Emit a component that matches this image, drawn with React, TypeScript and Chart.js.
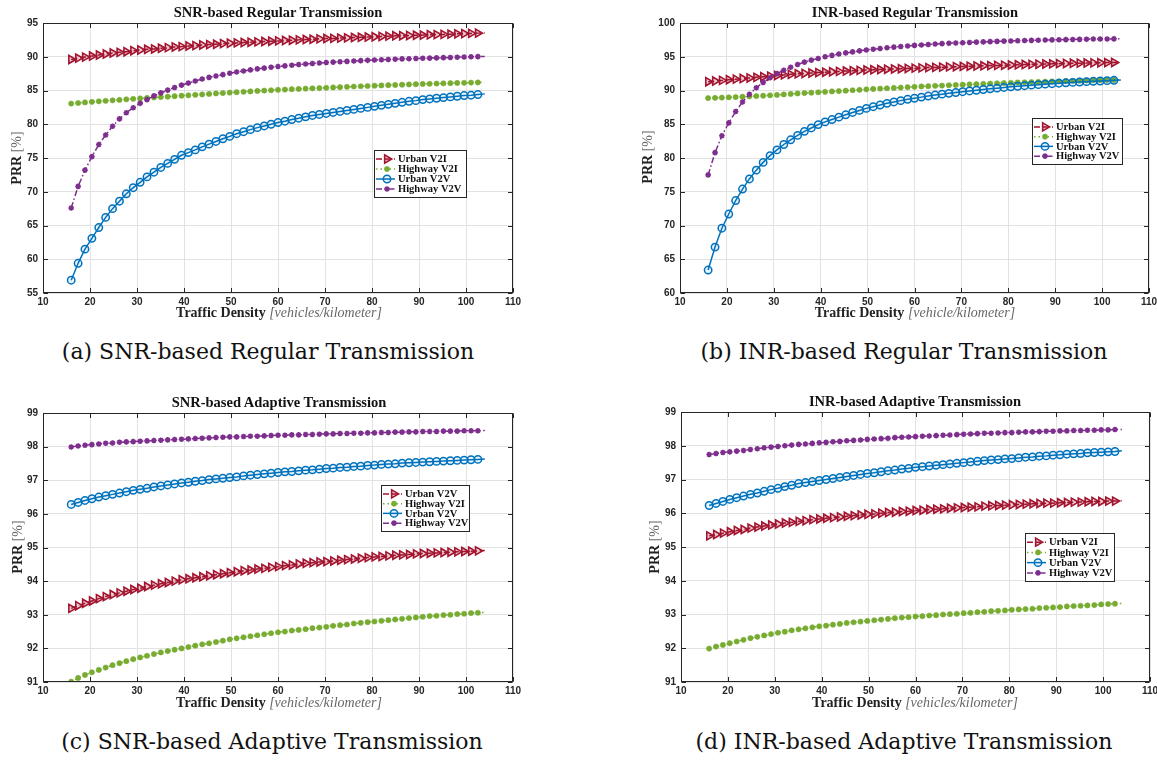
import React, { useEffect, useRef } from "react";
import { Chart, registerables } from "chart.js";
import { drawPoint } from "chart.js/helpers";

Chart.register(...registerables);

// ---------------- data ----------------
const density = [16, 17.47, 18.93, 20.4, 21.87, 23.33, 24.8, 26.27, 27.73, 29.2, 30.67, 32.13, 33.6, 35.07, 36.53, 38, 39.47, 40.93, 42.4, 43.87, 45.33, 46.8, 48.27, 49.73, 51.2, 52.67, 54.13, 55.6, 57.07, 58.53, 60, 61.47, 62.93, 64.4, 65.87, 67.33, 68.8, 70.27, 71.73, 73.2, 74.67, 76.13, 77.6, 79.07, 80.53, 82, 83.47, 84.93, 86.4, 87.87, 89.33, 90.8, 92.27, 93.73, 95.2, 96.67, 98.13, 99.6, 101.07, 102.53, 104];

// (a) SNR-based Regular Transmission
const snrRegUrbanV2I = [89.6, 89.8, 89.95, 90.1, 90.25, 90.4, 90.55, 90.65, 90.75, 90.9, 91.0, 91.1, 91.15, 91.25, 91.35, 91.45, 91.5, 91.6, 91.65, 91.75, 91.8, 91.85, 91.95, 92.0, 92.05, 92.1, 92.15, 92.2, 92.25, 92.3, 92.35, 92.4, 92.45, 92.5, 92.55, 92.6, 92.65, 92.7, 92.72, 92.76, 92.8, 92.84, 92.88, 92.92, 92.96, 93.0, 93.05, 93.1, 93.12, 93.15, 93.18, 93.21, 93.25, 93.28, 93.31, 93.35, 93.39, 93.43, 93.46, 93.5, 93.52];
const snrRegHighwayV2I = [83.07, 83.15, 83.24, 83.32, 83.4, 83.47, 83.54, 83.61, 83.69, 83.76, 83.83, 83.9, 83.96, 84.03, 84.09, 84.16, 84.23, 84.29, 84.36, 84.42, 84.49, 84.56, 84.62, 84.69, 84.75, 84.81, 84.87, 84.93, 84.99, 85.04, 85.1, 85.14, 85.19, 85.23, 85.28, 85.32, 85.36, 85.41, 85.45, 85.5, 85.54, 85.59, 85.63, 85.67, 85.71, 85.75, 85.79, 85.82, 85.86, 85.9, 85.93, 85.97, 86.0, 86.03, 86.06, 86.09, 86.12, 86.14, 86.17, 86.19, 86.22];
const snrRegUrbanV2V = [56.9, 59.4, 61.5, 63.1, 64.7, 66.2, 67.5, 68.6, 69.7, 70.6, 71.4, 72.2, 72.9, 73.6, 74.2, 74.8, 75.4, 75.8, 76.2, 76.65, 77.05, 77.45, 77.85, 78.2, 78.6, 78.9, 79.2, 79.5, 79.75, 80.0, 80.25, 80.45, 80.7, 80.9, 81.1, 81.3, 81.45, 81.6, 81.75, 81.9, 82.05, 82.2, 82.35, 82.5, 82.65, 82.8, 82.95, 83.1, 83.25, 83.4, 83.5, 83.65, 83.75, 83.85, 83.95, 84.05, 84.15, 84.25, 84.3, 84.4, 84.5];
const snrRegHighwayV2V = [67.6, 70.8, 73.2, 75.2, 77.0, 78.4, 79.7, 80.8, 81.7, 82.45, 83.1, 83.65, 84.2, 84.65, 85.05, 85.45, 85.8, 86.1, 86.4, 86.7, 86.95, 87.15, 87.35, 87.55, 87.75, 87.9, 88.05, 88.2, 88.32, 88.44, 88.55, 88.65, 88.75, 88.85, 88.93, 89.0, 89.07, 89.15, 89.2, 89.26, 89.32, 89.37, 89.42, 89.47, 89.51, 89.55, 89.6, 89.64, 89.68, 89.71, 89.74, 89.77, 89.8, 89.84, 89.87, 89.9, 89.93, 89.96, 89.99, 90.02, 90.05];

// (b) INR-based Regular Transmission
const inrRegUrbanV2I = [91.3, 91.4, 91.5, 91.6, 91.68, 91.77, 91.86, 91.95, 92.04, 92.13, 92.22, 92.31, 92.39, 92.47, 92.53, 92.59, 92.65, 92.71, 92.77, 92.83, 92.88, 92.93, 92.98, 93.03, 93.07, 93.11, 93.15, 93.19, 93.23, 93.27, 93.31, 93.35, 93.39, 93.42, 93.46, 93.5, 93.53, 93.57, 93.6, 93.63, 93.66, 93.69, 93.72, 93.75, 93.78, 93.81, 93.84, 93.87, 93.9, 93.92, 93.95, 93.98, 94.0, 94.03, 94.05, 94.07, 94.09, 94.11, 94.13, 94.15, 94.17];
const inrRegHighwayV2I = [88.88, 88.91, 88.95, 88.99, 89.03, 89.08, 89.13, 89.18, 89.23, 89.29, 89.35, 89.42, 89.49, 89.56, 89.62, 89.68, 89.74, 89.8, 89.86, 89.92, 89.98, 90.04, 90.1, 90.17, 90.23, 90.28, 90.33, 90.38, 90.43, 90.49, 90.55, 90.6, 90.64, 90.69, 90.73, 90.78, 90.82, 90.87, 90.91, 90.95, 90.99, 91.03, 91.07, 91.11, 91.15, 91.19, 91.22, 91.25, 91.28, 91.31, 91.34, 91.37, 91.4, 91.43, 91.46, 91.48, 91.51, 91.53, 91.55, 91.57, 91.59];
const inrRegUrbanV2V = [63.4, 66.8, 69.6, 71.7, 73.7, 75.4, 76.9, 78.2, 79.35, 80.35, 81.2, 82.0, 82.7, 83.35, 83.95, 84.45, 84.95, 85.35, 85.7, 86.05, 86.4, 86.75, 87.05, 87.35, 87.6, 87.85, 88.1, 88.3, 88.5, 88.7, 88.85, 89.02, 89.18, 89.33, 89.46, 89.58, 89.7, 89.82, 89.93, 90.04, 90.15, 90.25, 90.35, 90.45, 90.54, 90.63, 90.71, 90.79, 90.87, 90.94, 91.01, 91.08, 91.14, 91.2, 91.26, 91.31, 91.36, 91.41, 91.46, 91.51, 91.55];
const inrRegHighwayV2V = [77.5, 80.8, 83.3, 85.2, 86.9, 88.3, 89.45, 90.4, 91.2, 91.9, 92.5, 93.0, 93.45, 93.85, 94.2, 94.5, 94.75, 95.0, 95.2, 95.4, 95.57, 95.72, 95.87, 96.0, 96.12, 96.23, 96.34, 96.43, 96.52, 96.6, 96.68, 96.75, 96.82, 96.88, 96.94, 96.99, 97.04, 97.08, 97.12, 97.16, 97.2, 97.24, 97.28, 97.31, 97.34, 97.37, 97.4, 97.43, 97.45, 97.48, 97.5, 97.52, 97.54, 97.56, 97.58, 97.6, 97.62, 97.63, 97.64, 97.65, 97.66];

// (c) SNR-based Adaptive Transmission
const snrAdpUrbanV2I = [93.19, 93.27, 93.34, 93.41, 93.48, 93.54, 93.6, 93.65, 93.7, 93.75, 93.79, 93.84, 93.88, 93.92, 93.96, 94.0, 94.04, 94.07, 94.1, 94.13, 94.16, 94.19, 94.22, 94.25, 94.28, 94.31, 94.33, 94.36, 94.38, 94.41, 94.43, 94.46, 94.48, 94.51, 94.53, 94.55, 94.57, 94.58, 94.6, 94.62, 94.64, 94.66, 94.68, 94.7, 94.72, 94.73, 94.75, 94.77, 94.78, 94.79, 94.81, 94.82, 94.83, 94.84, 94.85, 94.86, 94.87, 94.88, 94.89, 94.9, 94.91];
const snrAdpHighwayV2I = [91.01, 91.12, 91.21, 91.29, 91.36, 91.43, 91.5, 91.56, 91.62, 91.68, 91.73, 91.78, 91.83, 91.88, 91.92, 91.96, 92.0, 92.04, 92.08, 92.12, 92.15, 92.19, 92.23, 92.27, 92.3, 92.33, 92.36, 92.39, 92.42, 92.45, 92.48, 92.5, 92.53, 92.55, 92.57, 92.6, 92.62, 92.64, 92.67, 92.69, 92.71, 92.74, 92.76, 92.78, 92.8, 92.82, 92.84, 92.86, 92.88, 92.9, 92.92, 92.94, 92.96, 92.97, 92.99, 93.0, 93.02, 93.03, 93.05, 93.06, 93.07];
const snrAdpUrbanV2V = [96.28, 96.34, 96.4, 96.45, 96.5, 96.54, 96.58, 96.62, 96.66, 96.7, 96.73, 96.76, 96.8, 96.83, 96.86, 96.89, 96.92, 96.94, 96.97, 96.99, 97.02, 97.04, 97.06, 97.08, 97.1, 97.13, 97.15, 97.17, 97.19, 97.21, 97.23, 97.25, 97.26, 97.28, 97.3, 97.31, 97.33, 97.35, 97.36, 97.38, 97.39, 97.41, 97.42, 97.44, 97.45, 97.47, 97.48, 97.49, 97.51, 97.52, 97.53, 97.54, 97.55, 97.56, 97.57, 97.58, 97.59, 97.6, 97.61, 97.62, 97.63];
const snrAdpHighwayV2V = [97.99, 98.02, 98.04, 98.06, 98.08, 98.1, 98.11, 98.13, 98.14, 98.15, 98.16, 98.17, 98.18, 98.19, 98.2, 98.21, 98.22, 98.23, 98.24, 98.25, 98.26, 98.27, 98.28, 98.29, 98.29, 98.3, 98.31, 98.31, 98.32, 98.33, 98.34, 98.34, 98.35, 98.35, 98.36, 98.36, 98.37, 98.38, 98.38, 98.39, 98.39, 98.4, 98.4, 98.41, 98.41, 98.42, 98.42, 98.43, 98.43, 98.44, 98.44, 98.45, 98.45, 98.45, 98.46, 98.46, 98.46, 98.47, 98.47, 98.47, 98.48];

// (d) INR-based Adaptive Transmission
const inrAdpUrbanV2I = [95.33, 95.37, 95.41, 95.45, 95.49, 95.52, 95.56, 95.59, 95.62, 95.65, 95.68, 95.71, 95.73, 95.76, 95.78, 95.81, 95.83, 95.85, 95.87, 95.89, 95.91, 95.93, 95.95, 95.97, 95.98, 96.0, 96.02, 96.03, 96.05, 96.06, 96.08, 96.09, 96.11, 96.12, 96.13, 96.15, 96.16, 96.17, 96.18, 96.19, 96.21, 96.22, 96.23, 96.24, 96.25, 96.26, 96.27, 96.28, 96.29, 96.3, 96.3, 96.31, 96.32, 96.33, 96.33, 96.34, 96.35, 96.35, 96.36, 96.36, 96.37];
const inrAdpHighwayV2I = [91.99, 92.05, 92.1, 92.15, 92.2, 92.25, 92.3, 92.34, 92.38, 92.42, 92.46, 92.49, 92.53, 92.56, 92.59, 92.62, 92.65, 92.67, 92.7, 92.72, 92.75, 92.77, 92.79, 92.81, 92.83, 92.85, 92.87, 92.89, 92.91, 92.92, 92.94, 92.95, 92.97, 92.98, 93.0, 93.01, 93.02, 93.04, 93.05, 93.07, 93.08, 93.1, 93.11, 93.12, 93.14, 93.15, 93.16, 93.17, 93.19, 93.2, 93.21, 93.22, 93.24, 93.25, 93.26, 93.27, 93.28, 93.3, 93.31, 93.32, 93.33];
const inrAdpUrbanV2V = [96.23, 96.29, 96.35, 96.41, 96.46, 96.51, 96.56, 96.6, 96.65, 96.7, 96.74, 96.79, 96.83, 96.88, 96.91, 96.94, 96.97, 97.0, 97.03, 97.06, 97.09, 97.12, 97.15, 97.18, 97.2, 97.23, 97.26, 97.28, 97.31, 97.33, 97.36, 97.38, 97.4, 97.42, 97.44, 97.46, 97.48, 97.5, 97.52, 97.54, 97.56, 97.58, 97.59, 97.61, 97.62, 97.64, 97.66, 97.67, 97.69, 97.7, 97.72, 97.73, 97.75, 97.76, 97.77, 97.79, 97.8, 97.81, 97.82, 97.83, 97.85];
const inrAdpHighwayV2V = [97.74, 97.77, 97.8, 97.82, 97.84, 97.86, 97.89, 97.91, 97.94, 97.96, 97.98, 98.0, 98.02, 98.04, 98.05, 98.07, 98.09, 98.1, 98.12, 98.13, 98.15, 98.16, 98.17, 98.19, 98.2, 98.21, 98.22, 98.24, 98.25, 98.26, 98.27, 98.28, 98.29, 98.3, 98.31, 98.32, 98.33, 98.34, 98.35, 98.36, 98.37, 98.37, 98.38, 98.39, 98.39, 98.4, 98.41, 98.41, 98.42, 98.43, 98.43, 98.44, 98.44, 98.45, 98.45, 98.46, 98.46, 98.47, 98.47, 98.48, 98.48];

const legendRegular = ["Urban V2I", "Highway V2I", "Urban V2V", "Highway V2V"];
const legendSnrAdaptive = ["Urban V2V", "Highway V2I", "Urban V2V", "Highway V2V"];
const xTickStep = 10;

// ---------------- styles ----------------
const RED = "#A2142F";
const GREEN = "#77AC30";
const BLUE = "#0072BD";
const PURPLE = "#7E2F8E";

type SeriesStyle = {
  color: string;
  dash: number[];
  pointStyle: string;
  rotation: number;
  radius: number;
  fill: string;
  bw: number;
};

const STYLES: SeriesStyle[] = [
  { color: RED, dash: [6, 3], pointStyle: "triangle", rotation: 90, radius: 4.7, fill: "rgba(162,20,47,0.22)", bw: 1.6 },
  { color: GREEN, dash: [1.5, 3], pointStyle: "circle", radius: 2.6, rotation: 0, fill: GREEN, bw: 0.6 },
  { color: BLUE, dash: [], pointStyle: "circle", radius: 3.7, rotation: 0, fill: "rgba(0,114,189,0.08)", bw: 1.5 },
  { color: PURPLE, dash: [6, 2.5, 1.5, 2.5], pointStyle: "star", radius: 2.8, rotation: 0, fill: PURPLE, bw: 1.6 },
];

type Box = { x: number; y: number; w: number; h: number };
type PanelCfg = {
  cx: number; cy: number; cw: number; ch: number;
  plot: { l: number; t: number; r: number; b: number };
  yMin: number; yMax: number; yStep: number;
  series: number[][];
  legendLabels: string[];
  legend: Box;
};

function ChartPanel({ cfg }: { cfg: PanelCfg }) {
  const ref = useRef<HTMLCanvasElement | null>(null);
  useEffect(() => {
    const canvas = ref.current;
    if (!canvas) return;
    const { cx, cy, cw, ch, plot } = cfg;
    const lastIdx = density.length - 1;
    const datasets = cfg.series.map((vals, si) => {
      const st = STYLES[si];
      return {
        label: cfg.legendLabels[si],
        data: density.map((x, i) => ({ x, y: vals[i] })),
        borderColor: st.color,
        backgroundColor: st.fill,
        borderWidth: 1.5,
        borderDash: st.dash,
        pointStyle: st.pointStyle,
        pointRotation: st.rotation,
        pointRadius: density.map((_, i) => (i === lastIdx ? 0 : st.radius)),
        pointBorderWidth: st.bw,
        pointBorderColor: st.color,
        pointBackgroundColor: st.fill,
        tension: 0,
        fill: false,
        order: 3 - si,
      };
    });

    const framePlugin = {
      id: "matlabFrame",
      afterDraw(chart: any) {
        const { ctx, chartArea: a, scales } = chart;
        ctx.save();
        ctx.strokeStyle = "#262626";
        ctx.lineWidth = 1;
        ctx.setLineDash([]);
        const L = Math.round(a.left) + 0.5;
        const R = Math.round(a.right) - 0.5;
        const T = Math.round(a.top) + 0.5;
        const B = Math.round(a.bottom) - 0.5;
        ctx.strokeRect(L, T, R - L, B - T);
        ctx.beginPath();
        const tl = 4.5;
        scales.x.ticks.forEach((t: any) => {
          const px = Math.round(scales.x.getPixelForValue(t.value)) + 0.5;
          ctx.moveTo(px, B); ctx.lineTo(px, B - tl);
          ctx.moveTo(px, T); ctx.lineTo(px, T + tl);
        });
        scales.y.ticks.forEach((t: any) => {
          const py = Math.round(scales.y.getPixelForValue(t.value)) + 0.5;
          ctx.moveTo(L, py); ctx.lineTo(L + tl, py);
          ctx.moveTo(R, py); ctx.lineTo(R - tl, py);
        });
        ctx.stroke();

        // legend
        const lb = cfg.legend;
        const bx = lb.x - cx;
        const by = lb.y - cy;
        ctx.fillStyle = "#ffffff";
        ctx.fillRect(bx, by, lb.w, lb.h);
        ctx.strokeStyle = "#262626";
        ctx.lineWidth = 1;
        ctx.strokeRect(bx + 0.5, by + 0.5, lb.w - 1, lb.h - 1);
        const rowH = (lb.h - 8) / 4;
        cfg.legendLabels.forEach((lab, i) => {
          const st = STYLES[i];
          const yy = by + 4 + rowH * (i + 0.5);
          ctx.save();
          ctx.strokeStyle = st.color;
          ctx.lineWidth = 1.5;
          ctx.setLineDash(st.dash);
          ctx.beginPath();
          ctx.moveTo(bx + 2, yy);
          ctx.lineTo(bx + 21, yy);
          ctx.stroke();
          ctx.setLineDash([]);
          ctx.strokeStyle = st.color;
          ctx.fillStyle = st.fill;
          ctx.lineWidth = st.bw;
          drawPoint(ctx, { pointStyle: st.pointStyle as any, rotation: st.rotation, radius: st.radius, borderWidth: st.bw }, bx + 13, yy);
          ctx.restore();
          ctx.fillStyle = "#111";
          ctx.font = 'bold 10.5px "Liberation Serif", serif';
          ctx.textBaseline = "middle";
          ctx.textAlign = "left";
          ctx.fillText(lab, bx + 24, yy + 0.5);
        });
        ctx.restore();
      },
    };

    const tickFont = { family: '"Liberation Sans", Arial, sans-serif', size: 10, weight: "bold" as const };
    const chart = new Chart(canvas, {
      type: "line",
      data: { datasets: datasets as any },
      options: {
        animation: false,
        responsive: false,
        events: [],
        layout: { padding: { left: 0, top: plot.t - cy, right: cx + cw - plot.r, bottom: 0 } },
        plugins: { legend: { display: false }, tooltip: { enabled: false }, title: { display: false } },
        scales: {
          x: {
            type: "linear",
            min: 10,
            max: 110,
            ticks: { stepSize: xTickStep, autoSkip: false, maxRotation: 0, minRotation: 0, color: "#262626", font: tickFont, padding: 3 },
            grid: { color: "#e2e2e2", lineWidth: 1, drawTicks: false },
            border: { display: false },
            afterFit: (s: any) => {
              s.height = cy + ch - plot.b;
              s.paddingLeft = 0;
              s.paddingRight = 0;
            },
          },
          y: {
            type: "linear",
            min: cfg.yMin,
            max: cfg.yMax,
            ticks: { stepSize: cfg.yStep, autoSkip: false, color: "#262626", font: tickFont, padding: 5 },
            grid: { color: "#e2e2e2", lineWidth: 1, drawTicks: false },
            border: { display: false },
            afterFit: (s: any) => {
              s.width = plot.l - cx;
              s.paddingTop = 0;
              s.paddingBottom = 0;
            },
          },
        },
      } as any,
      plugins: [framePlugin],
    });
    return () => chart.destroy();
  }, [cfg]);
  return (
    <canvas
      ref={ref}
      width={cfg.cw}
      height={cfg.ch}
      style={{ position: "absolute", left: cfg.cx, top: cfg.cy, width: cfg.cw, height: cfg.ch }}
    />
  );
}

const PANELS: PanelCfg[] = [
  {
    cx: 0, cy: 0, cw: 530, ch: 330,
    plot: { l: 43, t: 23, r: 513, b: 293 },
    yMin: 55, yMax: 95, yStep: 5,
    series: [snrRegUrbanV2I, snrRegHighwayV2I, snrRegUrbanV2V, snrRegHighwayV2V],
    legendLabels: legendRegular,
    legend: { x: 374, y: 150, w: 93, h: 48 },
  },
  {
    cx: 637, cy: 0, cw: 520, ch: 330,
    plot: { l: 680, t: 23, r: 1149, b: 293 },
    yMin: 60, yMax: 100, yStep: 5,
    series: [inrRegUrbanV2I, inrRegHighwayV2I, inrRegUrbanV2V, inrRegHighwayV2V],
    legendLabels: legendRegular,
    legend: { x: 1032, y: 118, w: 91, h: 47 },
  },
  {
    cx: 0, cy: 390, cw: 530, ch: 330,
    plot: { l: 43, t: 413, r: 513, b: 682 },
    yMin: 91, yMax: 99, yStep: 1,
    series: [snrAdpUrbanV2I, snrAdpHighwayV2I, snrAdpUrbanV2V, snrAdpHighwayV2V],
    legendLabels: legendSnrAdaptive,
    legend: { x: 381, y: 485, w: 89, h: 47 },
  },
  {
    cx: 637, cy: 390, cw: 520, ch: 330,
    plot: { l: 681, t: 412, r: 1150, b: 682 },
    yMin: 91, yMax: 99, yStep: 1,
    series: [inrAdpUrbanV2I, inrAdpHighwayV2I, inrAdpUrbanV2V, inrAdpHighwayV2V],
    legendLabels: legendRegular,
    legend: { x: 1025, y: 533, w: 90, h: 49 },
  },
];

const TEXTS = [
  { title: "SNR-based Regular Transmission", tx: 278, ty: 12, unit: "[vehicles/kilometer]", xx: 279, xy: 313, yx: 17, yy: 158, caption: "(a) SNR-based Regular Transmission", capx: 268, capy: 352 },
  { title: "INR-based Regular Transmission", tx: 915, ty: 12, unit: "[vehicle/kilometer]", xx: 915, xy: 313, yx: 648, yy: 157, caption: "(b) INR-based Regular Transmission", capx: 904, capy: 352 },
  { title: "SNR-based Adaptive Transmission", tx: 279, ty: 402, unit: "[vehicles/kilometer]", xx: 279, xy: 703, yx: 18, yy: 547, caption: "(c) SNR-based Adaptive Transmission", capx: 272, capy: 742 },
  { title: "INR-based Adaptive Transmission", tx: 915, ty: 401, unit: "[vehicles/kilometer]", xx: 915, xy: 703, yx: 655, yy: 547, caption: "(d) INR-based Adaptive Transmission", capx: 904, capy: 742 },
];

const SERIF = '"Liberation Serif", "Times New Roman", serif';

function Centered({ x, y, rotate, style, children }: { x: number; y: number; rotate?: boolean; style?: any; children: any }) {
  return (
    <div
      style={{
        position: "absolute",
        left: x,
        top: y,
        transform: `translate(-50%, -50%)${rotate ? " rotate(-90deg)" : ""}`,
        whiteSpace: "nowrap",
        lineHeight: 1,
        ...style,
      }}
    >
      {children}
    </div>
  );
}

export default function App() {
  return (
    <div style={{ position: "fixed", left: 0, top: 0, width: 1157, height: 760, background: "#fff", overflow: "hidden" }}>
      {PANELS.map((p, i) => (
        <ChartPanel key={i} cfg={p} />
      ))}
      {TEXTS.map((t, i) => (
        <React.Fragment key={i}>
          <Centered x={t.tx} y={t.ty} style={{ fontFamily: SERIF, fontWeight: "bold", fontSize: 14.5, color: "#111" }}>
            {t.title}
          </Centered>
          <Centered x={t.xx} y={t.xy} style={{ fontFamily: SERIF, fontSize: 14, color: "#222" }}>
            <span style={{ fontWeight: "bold" }}>Traffic Density</span>{" "}
            <span style={{ fontStyle: "italic", color: "#666" }}>{t.unit}</span>
          </Centered>
          <Centered x={t.yx} y={t.yy} rotate style={{ fontFamily: SERIF, fontSize: 14, color: "#222" }}>
            <span style={{ fontWeight: "bold" }}>PRR</span> <span style={{ color: "#666" }}>[%]</span>
          </Centered>
          <Centered x={t.capx} y={t.capy} style={{ fontFamily: '"DejaVu Serif", serif', fontSize: 22, color: "#111" }}>
            {t.caption}
          </Centered>
        </React.Fragment>
      ))}
    </div>
  );
}
